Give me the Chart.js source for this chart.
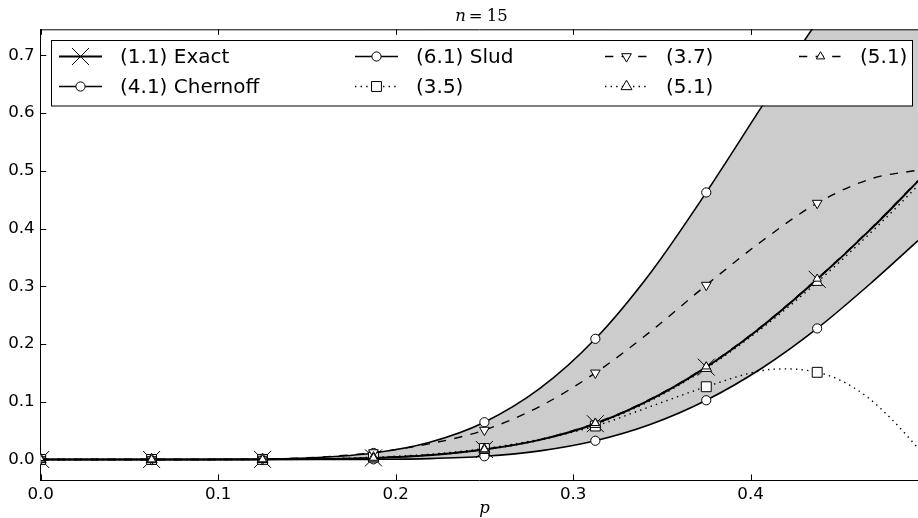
<!DOCTYPE html>
<html><head><meta charset="utf-8">
<script src="https://cdn.jsdelivr.net/npm/chart.js@4.4.1/dist/chart.umd.min.js"></script>
<style>html,body{margin:0;padding:0;background:#fff;overflow:hidden}#wrap{width:918px;height:518px}</style>
</head><body><div id="wrap"><canvas id="c" width="918" height="518"></canvas></div>
<script>
// ---- data ----
const P = [0, 0.03125, 0.0625, 0.09375, 0.125, 0.15625, 0.1875, 0.21875, 0.25, 0.28125, 0.3125, 0.34375, 0.375, 0.40625, 0.4375, 0.46875, 0.4943];
const P35 = [0, 0.03125, 0.0625, 0.09375, 0.125, 0.15625, 0.1875, 0.21875, 0.25, 0.28125, 0.3125, 0.34375, 0.375, 0.40625, 0.42, 0.4375, 0.45, 0.4654, 0.48, 0.4943];
const EXACT    = [0, 0, 0, 0.00001, 0.0002, 0.0008, 0.0028, 0.0075, 0.0173, 0.034, 0.062, 0.104, 0.160, 0.230, 0.312, 0.402, 0.482];
const CHERNOFF = [0, 0, 0.000005, 0.0001, 0.00074, 0.0034, 0.0113, 0.0295, 0.0646, 0.123, 0.209, 0.324, 0.4625, 0.611, 0.758, 0.884, 0.97];
const SLUD     = [0, 0, 0, 0, 0.00001, 0.00005, 0.0003, 0.0016, 0.0056, 0.015, 0.0325, 0.061, 0.1026, 0.158, 0.227, 0.308, 0.379];
const B35      = [0, 0, 0, 0, 0.0002, 0.001, 0.004, 0.009, 0.019, 0.035, 0.058, 0.092, 0.126, 0.154, 0.157, 0.151, 0.138, 0.109, 0.068, 0.02];
const B37      = [0, 0, 0, 0.0001, 0.0008, 0.004, 0.012, 0.027, 0.051, 0.092, 0.150, 0.222, 0.302, 0.378, 0.444, 0.487, 0.501];
const B51DOT   = [0, 0, 0, 0.00001, 0.0002, 0.0008, 0.0027, 0.0073, 0.0170, 0.0335, 0.061, 0.102, 0.158, 0.227, 0.307, 0.396, 0.474];
const B51DASH  = [0, 0, 0, 0.00001, 0.0002, 0.0008, 0.0029, 0.0077, 0.0176, 0.0345, 0.063, 0.105, 0.161, 0.231, 0.313, 0.403, 0.483];
const LABELS = ['(1.1) Exact', '(4.1) Chernoff', '(6.1) Slud', '(3.5)', '(3.7)', '(5.1)', '(5.1)'];
const XTICKS = [0, 0.1, 0.2, 0.3, 0.4];
const YTICKS = [0, 0.1, 0.2, 0.3, 0.4, 0.5, 0.6, 0.7];
const TITLE_VAR = 'n', TITLE_REST = ['=', '15'];
const XLABEL = 'p';

// ---- styles ----
const DASH = [8.3, 8.3], DOT = [1.4, 4.2];
const STYLES = [
  {xs: P,   ys: EXACT,    pt: 'crossRot', r: 12,  rot: 0,   dash: [],   lw: 2.0, order: 7},
  {xs: P,   ys: CHERNOFF, pt: 'circle',   r: 4.6, rot: 0,   dash: [],   lw: 1.6, order: 6, fill: true},
  {xs: P,   ys: SLUD,     pt: 'circle',   r: 4.6, rot: 0,   dash: [],   lw: 1.6, order: 5},
  {xs: P35, ys: B35,      pt: 'rect',     r: 7,   rot: 0,   dash: DOT,  lw: 1.4, order: 4},
  {xs: P,   ys: B37,      pt: 'triangle', r: 5.6, rot: 180, dash: DASH, lw: 1.4, order: 3},
  {xs: P,   ys: B51DOT,   pt: 'triangle', r: 6.3, rot: 0,   dash: DOT,  lw: 1.4, order: 2},
  {xs: P,   ys: B51DASH,  pt: 'triangle', r: 4.8, rot: 0,   dash: DASH, lw: 1.4, order: 1}
];
const isMark = v => Math.abs(v * 16 - Math.round(v * 16)) < 1e-6;

const datasets = STYLES.map((s, i) => ({
  label: LABELS[i],
  data: s.xs.map((x, k) => ({x: x, y: s.ys[k]})),
  borderColor: '#000', borderWidth: s.lw, borderDash: s.dash,
  backgroundColor: s.fill ? '#cccccc' : '#fff',
  fill: s.fill ? {target: 2} : false,
  pointStyle: s.pt, pointRotation: s.rot,
  pointRadius: c => (c.raw && isMark(c.raw.x)) ? s.r : 0,
  pointBackgroundColor: '#fff', pointBorderColor: '#000', pointBorderWidth: 1,
  pointHoverRadius: 0, pointHitRadius: 0,
  cubicInterpolationMode: 'monotone', order: s.order
}));

function marker(ctx, style, x, y, r, rot) {
  ctx.beginPath();
  if (style === 'circle') ctx.arc(x, y, r, 0, 2 * Math.PI);
  else if (style === 'rect') { const s = r * Math.SQRT1_2; ctx.rect(x - s, y - s, 2 * s, 2 * s); }
  else if (style === 'triangle') {
    let a = rot * Math.PI / 180;
    for (let k = 0; k < 3; k++) {
      const px = x + Math.sin(a) * r, py = y - Math.cos(a) * r;
      if (k) ctx.lineTo(px, py); else ctx.moveTo(px, py);
      a += 2 * Math.PI / 3;
    }
    ctx.closePath();
  } else if (style === 'crossRot') {
    const o = r * Math.SQRT1_2;
    ctx.moveTo(x - o, y - o); ctx.lineTo(x + o, y + o);
    ctx.moveTo(x + o, y - o); ctx.lineTo(x - o, y + o);
  }
  if (style !== 'crossRot') { ctx.fillStyle = '#fff'; ctx.fill(); }
  ctx.stroke();
}

const deco = {
  id: 'deco',
  afterDraw(chart) {
    const ctx = chart.ctx, a = chart.chartArea, xs = chart.scales.x, ys = chart.scales.y;
    ctx.save();
    ctx.strokeStyle = '#000'; ctx.lineWidth = 1; ctx.setLineDash([]);
    const ln = (x1, y1, x2, y2) => { ctx.beginPath(); ctx.moveTo(x1, y1); ctx.lineTo(x2, y2); ctx.stroke(); };
    ln(a.left, a.top + 0.5, a.right, a.top + 0.5);
    XTICKS.forEach(v => { const px = Math.round(xs.getPixelForValue(v)) + 0.5; ln(px, a.bottom, px, a.bottom - 5.6); ln(px, a.top, px, a.top + 5.6); });
    YTICKS.forEach(v => { const py = Math.round(ys.getPixelForValue(v)) + 0.5; ln(a.left, py, a.left + 5.6, py); });

    // legend
    const bx = a.left + 10.3, by = a.top + 10.7, bw = 861, bh = 65.5;
    ctx.fillStyle = '#fff'; ctx.fillRect(bx, by, bw, bh);
    ctx.strokeRect(Math.round(bx) + 0.5, Math.round(by) + 0.5, bw, bh);
    const colX = [8, 304, 554, 748], rowY = [16.5, 46.5];
    ctx.font = '20px "DejaVu Sans"'; ctx.textBaseline = 'middle';
    STYLES.forEach((s, i) => {
      const col = Math.floor(i / 2), row = i % 2;
      const hx = bx + colX[col], hy = by + rowY[row];
      ctx.strokeStyle = '#000'; ctx.lineWidth = s.lw; ctx.setLineDash(s.dash);
      ln(hx, hy, hx + 43, hy);
      ctx.setLineDash([]); ctx.lineWidth = 1;
      marker(ctx, s.pt, hx + 21.5, hy, s.r, s.rot);
      ctx.fillStyle = '#000';
      ctx.fillText(LABELS[i], hx + 61, hy + 1);
    });

    // title and x label
    const cx = (a.left + xs.getPixelForValue(0.5)) / 2;
    ctx.fillStyle = '#000'; ctx.textBaseline = 'alphabetic';
    ctx.font = 'italic 16.5px "DejaVu Serif"';
    const wn = ctx.measureText(TITLE_VAR).width;
    ctx.font = '16.5px "DejaVu Serif"';
    const we = ctx.measureText(TITLE_REST[0]).width, wd = ctx.measureText(TITLE_REST[1]).width;
    const tot = wn + 3 + we + 4 + wd;
    let tx = cx - 3 - tot / 2;
    ctx.font = 'italic 16.5px "DejaVu Serif"'; ctx.fillText(TITLE_VAR, tx, 20.7); tx += wn + 3;
    ctx.font = '16.5px "DejaVu Serif"'; ctx.fillText(TITLE_REST[0], tx, 20.7); tx += we + 4;
    ctx.fillText(TITLE_REST[1], tx, 20.7);
    ctx.font = 'italic 16.5px "DejaVu Serif"'; ctx.textAlign = 'center';
    ctx.fillText(XLABEL, cx, 513);
    ctx.restore();
  }
};

new Chart(document.getElementById('c'), {
  type: 'line',
  data: {datasets: datasets},
  options: {
    responsive: false, animation: false, events: [],
    layout: {autoPadding: false, padding: {top: 29.3, left: 0, right: 0, bottom: 0}},
    plugins: {legend: {display: false}, tooltip: {enabled: false}, filler: {drawTime: 'beforeDatasetsDraw'}},
    scales: {
      x: {
        type: 'linear', min: 0, max: 0.4943,
        afterBuildTicks: s => { s.ticks = XTICKS.map(v => ({value: v})); },
        afterFit: s => { s.height = 38; s.paddingRight = 0; s.paddingLeft = 0; },
        grid: {display: false, drawTicks: false},
        border: {display: true, color: '#000', width: 1},
        ticks: {font: {family: 'DejaVu Sans', size: 16.7}, color: '#000', padding: 5, maxRotation: 0, autoSkip: false, callback: v => v.toFixed(1)}
      },
      y: {
        type: 'linear', min: -0.0355, max: 0.745,
        afterBuildTicks: s => { s.ticks = YTICKS.map(v => ({value: v})); },
        afterFit: s => { s.width = 40.7; s.paddingTop = 0; s.paddingBottom = 0; },
        grid: {display: false, drawTicks: false},
        border: {display: true, color: '#000', width: 1},
        ticks: {font: {family: 'DejaVu Sans', size: 16.7}, color: '#000', padding: 6, autoSkip: false, callback: v => v.toFixed(1)}
      }
    }
  },
  plugins: [deco]
});
</script>
</body></html>
